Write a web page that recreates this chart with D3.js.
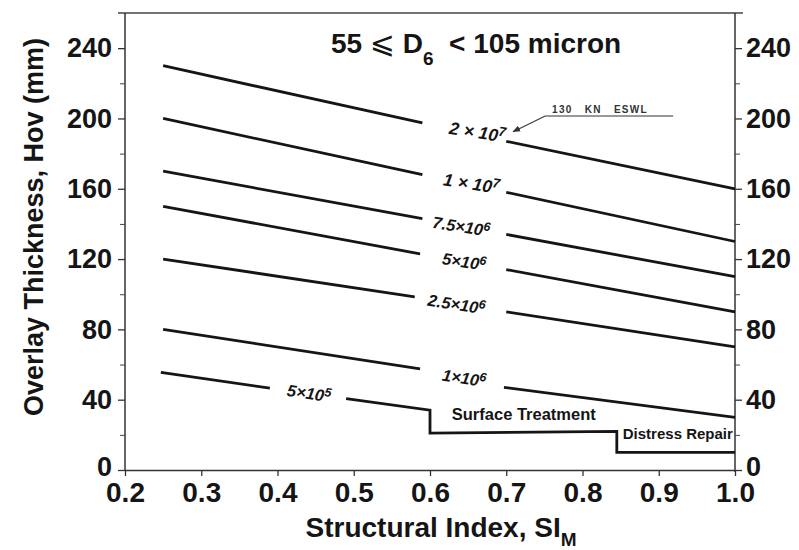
<!DOCTYPE html>
<html>
<head>
<meta charset="utf-8">
<script src="https://cdn.jsdelivr.net/npm/d3@7"></script>
<style>
  body { margin: 0; background: #fff; }
  svg { font-family: "Liberation Sans", Arial, Helvetica, sans-serif; }
</style>
</head>
<body>
<div id="chart"></div>
<script>
// design curves (SI_M, Hov in mm)
// each curve = left piece + right piece, the gap holds the label
var curveBase = ["2 × 10", "1 × 10", "7.5×10", "5×10", "2.5×10", "1×10"];
var curveExp = ["7", "7", "6", "6", "6", "6"];
var leftSI = [[0.25, 0.59], [0.25, 0.59], [0.25, 0.59], [0.25, 0.587], [0.25, 0.58], [0.25, 0.587]];
var leftHov = [[230, 197.5], [200, 168], [170, 143], [150, 123], [120, 98.5], [80, 57.5]];
var rightSI = [[0.70, 1.0], [0.70, 1.0], [0.70, 1.0], [0.70, 1.0], [0.70, 1.0], [0.697, 1.0]];
var rightHov = [[187, 160], [158, 130], [134, 110], [114, 90], [90, 70], [47, 30]];

// lowest curve (5x10^5) with the surface treatment / distress repair steps
var lowBase = "5×10", lowExp = "5";
var lowLeftSI = [0.247, 0.39];
var lowLeftHov = [55.5, 46.6];
var lowRightSI = [0.49, 0.6, 0.6, 0.845, 0.845, 1.0];
var lowRightHov = [40.6, 34, 21, 22, 10, 10];

var xTicks = [0.2, 0.3, 0.4, 0.5, 0.6, 0.7, 0.8, 0.9, 1.0];
var yTicks = [0, 40, 80, 120, 160, 200, 240];
var yMinor = [20, 60, 100, 140, 180, 220];

// label nudges (px) so they sit like the hand lettering
var labelShift = [13, 7, -3, 1, -4, 2];

var W = 799, H = 550;
var svg = d3.select("#chart").append("svg").attr("width", W).attr("height", H);

var x = d3.scaleLinear().domain([0.2, 1.0]).range([125, 735]);
var y = d3.scaleLinear().domain([0, 260]).range([470, 13]);

var ink = "#151515";

// frame
svg.append("line").attr("x1", 118).attr("x2", 743).attr("y1", y(260)).attr("y2", y(260))
  .attr("stroke", "#444").attr("stroke-width", 1.5);

function styleAxis(g, size) {
  g.attr("color", "#333");
  g.select(".domain").attr("stroke-width", 1.5);
  g.selectAll("line").attr("stroke-width", 1.3);
  g.selectAll("text")
    .attr("font-family", "'Liberation Sans', Arial, sans-serif")
    .attr("font-weight", "bold").attr("font-size", size).attr("fill", ink);
}

var gx = svg.append("g").attr("transform", "translate(0," + y(0) + ")")
  .call(d3.axisBottom(x).tickValues(xTicks).tickSize(6).tickSizeOuter(0).tickPadding(6)
    .tickFormat(d3.format(".1f")));
styleAxis(gx, 28);

var gl = svg.append("g").attr("transform", "translate(" + x(0.2) + ",0)")
  .call(d3.axisLeft(y).tickValues(yTicks).tickSize(7).tickSizeOuter(0).tickPadding(6));
styleAxis(gl, 27);
svg.append("g").attr("transform", "translate(" + x(0.2) + ",0)")
  .call(d3.axisLeft(y).tickValues(yMinor).tickSize(5).tickFormat(""))
  .call(function (g) { g.select(".domain").remove(); g.attr("color", "#444"); });

var gr = svg.append("g").attr("transform", "translate(" + x(1.0) + ",0)")
  .call(d3.axisRight(y).tickValues(yTicks).tickSize(7).tickSizeOuter(0).tickPadding(4));
styleAxis(gr, 27);
svg.append("g").attr("transform", "translate(" + x(1.0) + ",0)")
  .call(d3.axisRight(y).tickValues(yMinor).tickSize(5).tickFormat(""))
  .call(function (g) { g.select(".domain").remove(); g.attr("color", "#444"); });

// the two "0" labels sit a touch high, just above 0.2 / 1.0
[gl, gr].forEach(function (g) {
  g.selectAll(".tick text").filter(function (d) { return d === 0; }).attr("dy", "0.2em");
});

// side axes run up to the frame
gl.select(".domain").attr("d", "M0," + y(260) + "V" + y(0));
gr.select(".domain").attr("d", "M0," + y(260) + "V" + (y(0) + 2));

var line = d3.line().x(function (d) { return x(d[0]); }).y(function (d) { return y(d[1]); });

function drawPiece(si, hov) {
  var pts = si.map(function (v, i) { return [v, hov[i]]; });
  svg.append("path").attr("d", line(pts)).attr("fill", "none")
    .attr("stroke", ink).attr("stroke-width", 2.8).attr("stroke-linejoin", "miter");
}

function drawLabel(cx, cy, base, exp, fs) {
  var t = svg.append("text")
    .attr("transform", "translate(" + cx + "," + cy + ") rotate(9)")
    .attr("text-anchor", "middle").attr("dy", "0.35em")
    .attr("font-style", "italic").attr("font-weight", "bold")
    .attr("font-size", fs).attr("fill", ink);
  t.append("tspan").text(base);
  t.append("tspan").attr("dy", "-0.45em").attr("font-size", fs * 0.75).text(exp);
}

curveBase.forEach(function (b, i) {
  drawPiece(leftSI[i], leftHov[i]);
  drawPiece(rightSI[i], rightHov[i]);
  var cx = (x(leftSI[i][1]) + x(rightSI[i][0])) / 2 + labelShift[i];
  var cy = (y(leftHov[i][1]) + y(rightHov[i][0])) / 2;
  drawLabel(cx, cy, b, curveExp[i], i < 2 ? 17.5 : 16.5);
});

drawPiece(lowLeftSI, lowLeftHov);
drawPiece(lowRightSI, lowRightHov);
drawLabel((x(lowLeftSI[1]) + x(lowRightSI[0])) / 2 + 1, (y(lowLeftHov[1]) + y(lowRightHov[0])) / 2,
  lowBase, lowExp, 16.5);

// zone labels
svg.append("text").attr("x", x(0.723)).attr("y", y(28.4)).attr("text-anchor", "middle")
  .attr("font-weight", "bold").attr("font-size", 16.5).attr("fill", ink).text("Surface Treatment");
svg.append("text").attr("x", x(0.925)).attr("y", y(17.6)).attr("text-anchor", "middle")
  .attr("font-weight", "bold").attr("font-size", 15).attr("fill", ink).text("Distress Repair");

// load annotation
svg.append("defs").append("marker").attr("id", "arr").attr("viewBox", "0 0 10 10")
  .attr("refX", 9).attr("refY", 5).attr("markerWidth", 7).attr("markerHeight", 7)
  .attr("orient", "auto").append("path").attr("d", "M0,1L10,5L0,9Z").attr("fill", "#333");
svg.append("path")
  .attr("d", "M" + x(0.919) + "," + y(201.4) + "H" + x(0.751) + "L" + x(0.709) + "," + y(192.5))
  .attr("fill", "none").attr("stroke", "#333").attr("stroke-width", 1.1).attr("marker-end", "url(#arr)");
svg.append("text").attr("x", x(0.823)).attr("y", y(203)).attr("text-anchor", "middle")
  .attr("font-size", 10).attr("font-weight", "bold").attr("letter-spacing", 1.3)
  .attr("word-spacing", 8).attr("fill", "#333").text("130 KN ESWL");

// title
var title = svg.append("text").attr("x", 476).attr("y", 53).attr("text-anchor", "middle")
  .attr("font-weight", "bold").attr("font-size", 28).attr("fill", ink);
title.append("tspan").text("55 ");
title.append("tspan").attr("font-family", "'DejaVu Sans', sans-serif").attr("font-weight", "normal")
  .attr("font-size", 30).text("⩽");
title.append("tspan").text(" D");
title.append("tspan").attr("dy", 12).attr("font-size", 19).text("6");
title.append("tspan").attr("dy", -12).text("  < 105 micron").attr("xml:space", "preserve");

// axis titles
var xt = svg.append("text").attr("x", 441).attr("y", 537).attr("text-anchor", "middle")
  .attr("font-weight", "bold").attr("font-size", 28).attr("fill", ink);
xt.append("tspan").text("Structural Index, SI");
xt.append("tspan").attr("dy", 9).attr("font-size", 19).text("M");

svg.append("text").attr("transform", "translate(43," + 227 + ") rotate(-90)")
  .attr("text-anchor", "middle").attr("font-weight", "bold").attr("font-size", 27)
  .attr("fill", ink).text("Overlay Thickness, Hov (mm)");
</script>
</body>
</html>
